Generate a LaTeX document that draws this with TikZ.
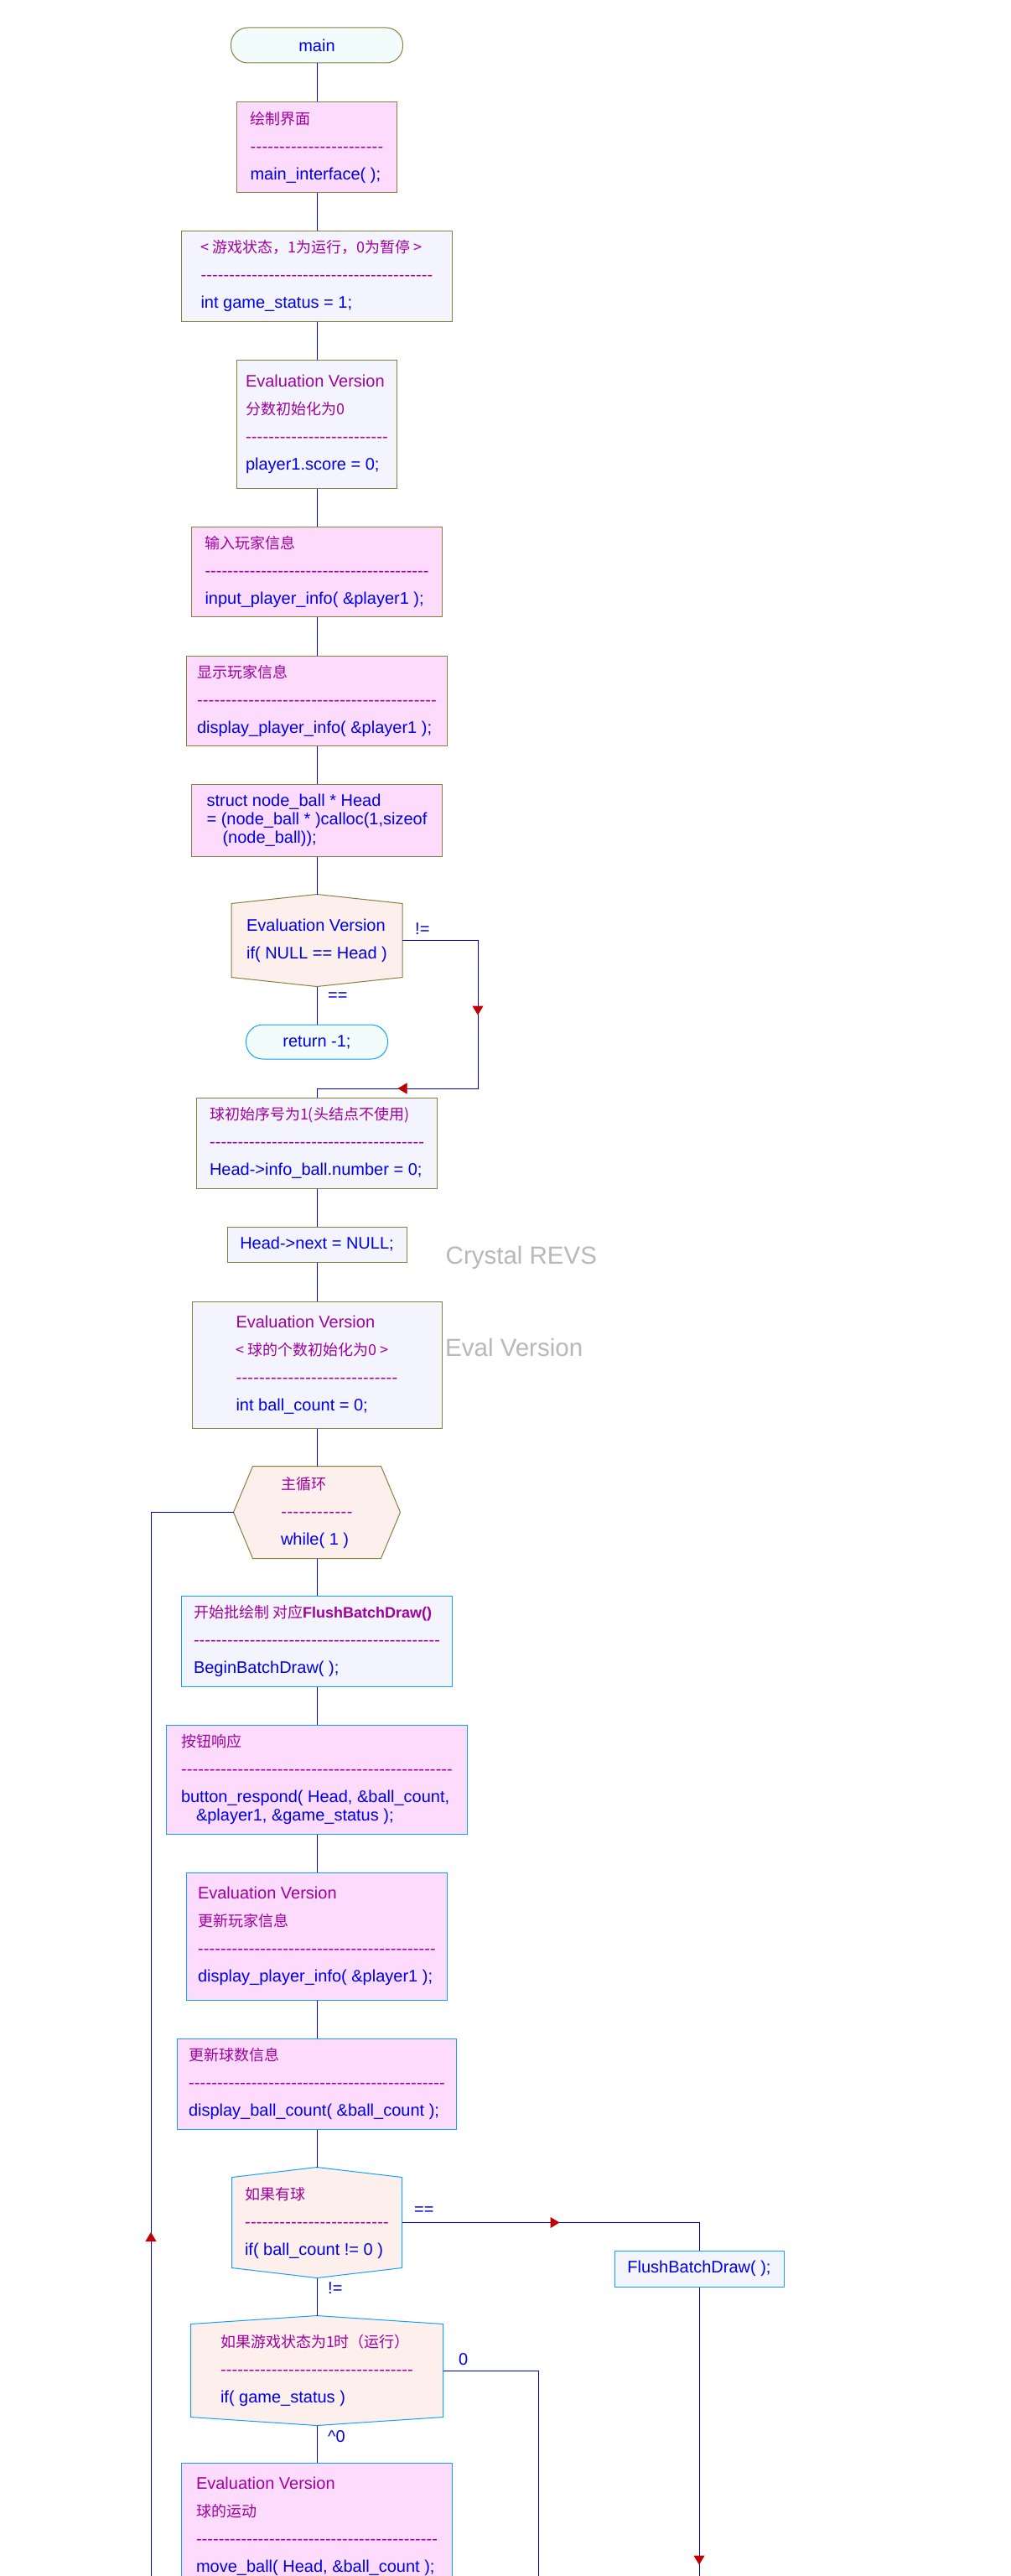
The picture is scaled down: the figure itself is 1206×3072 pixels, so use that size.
\documentclass[tikz,border=0pt]{standalone}
\usepackage{fontspec}
\setmainfont{Liberation Sans}
\newfontfamily\cjk{Noto Sans CJK SC}
\usetikzlibrary{arrows.meta,decorations.markings,calc,backgrounds}
\definecolor{lineblue}{HTML}{0000D0}
\definecolor{arrowred}{HTML}{C00000}
\definecolor{olive}{HTML}{858040}
\definecolor{cyanb}{HTML}{10A0FF}
\definecolor{pinkfill}{HTML}{FDDBFD}
\definecolor{lavfill}{HTML}{F4F4FE}
\definecolor{salfill}{HTML}{FDEFEB}
\definecolor{mintfill}{HTML}{F2FCFA}
\definecolor{cmcol}{HTML}{A000A0}
\definecolor{codecol}{HTML}{0000E8}
\definecolor{wmgray}{HTML}{B8B8B8}
\newcommand\zh[1]{{\cjk\fontsize{18}{22}\selectfont\color{cmcol}#1}}
\newcommand\zb[1]{{\bfseries\fontsize{18}{22}\selectfont\color{cmcol}#1}}
\newcommand\cm[1]{{\color{cmcol}#1}}
\newcommand\dl[1]{{\color{cmcol}\hbox to #1pt{\xleaders\hbox{-}\hfil}}}
\newcommand\redtip{\arrow{Triangle[width=13pt,length=11pt,color=arrowred]}}
\tikzset{
  base/.style={font=\fontsize{20}{22}\selectfont, text=codecol, align=left, inner sep=0pt, line width=1pt},
  procO/.style={base, draw=olive, rectangle},
  procC/.style={base, draw=cyanb, rectangle},
  pinkf/.style={fill=pinkfill},
  lavf/.style={fill=lavfill},
  sz/.style 2 args={minimum width=#1pt, minimum height=#2pt},
  dectext/.style={base, draw=none},
  decshape/.style={line width=1pt, fill=salfill},
  termO/.style={base, align=center, draw=olive, fill=mintfill, rounded corners=20pt},
  termC/.style={base, align=center, draw=cyanb, fill=mintfill, rounded corners=20pt},
  conn/.style={draw=lineblue, line width=1pt},
  lbl/.style={font=\fontsize{20}{22}\selectfont, text=codecol, anchor=west, inner sep=0pt},
  wm/.style={font=\fontsize{29.5}{32}\selectfont, text=wmgray, anchor=west, inner sep=0pt},
  arrowat/.style={postaction={decorate, decoration={markings, mark=at position #1 with {\redtip}}}}
}
\begin{document}
\begin{tikzpicture}[x=1pt, y=-1pt]
\useasboundingbox (0,0) rectangle (1206,3072);
\begin{scope}[on background layer]
\fill[white] (0,0) rectangle (1206,3072);
\end{scope}

% nodes
\node[termO, sz={205}{42}] (main) at (378,54) {main};
\node[procO, pinkf, sz={191}{107}] (b1) at (378,175.5) {\zh{绘制界面}\\[11pt]\dl{159}\\[11pt]main\_interface( );};
\node[procO, lavf, sz={323}{108}] (b2) at (378,329) {\zh{< 游戏状态，1为运行，0为暂停 >}\\[11pt]\dl{277}\\[11pt]int game\_status = 1;};
\node[procO, lavf, sz={191}{153}] (b3) at (378,505.5) {\cm{Evaluation Version}\\[11pt]\zh{分数初始化为0}\\[11pt]\dl{170}\\[11pt]player1.score = 0;};
\node[procO, pinkf, sz={299}{107}] (b4) at (378,681.5) {\zh{输入玩家信息}\\[11pt]\dl{267}\\[11pt]input\_player\_info( \&player1 );};
\node[procO, pinkf, sz={311}{107}] (b5) at (378,835.5) {\zh{显示玩家信息}\\[11pt]\dl{286}\\[11pt]display\_player\_info( \&player1 );};
\node[procO, pinkf, sz={299}{86}] (b6) at (378,978) {struct node\_ball * Head\\= (node\_ball * )calloc(1,sizeof\\\hspace*{19pt}(node\_ball));};
\node[dectext, sz={203}{109}] (d1) at (378,1121.5) {Evaluation Version\\[11pt]if( NULL == Head )};
\node[termC, sz={169}{41}] (ret) at (378,1242.5) {return -1;};
\node[procO, lavf, sz={287}{108}] (b7) at (378,1363) {\zh{球初始序号为1(头结点不使用)}\\[11pt]\dl{256}\\[11pt]Head->info\_ball.number = 0;};
\node[procO, lavf, sz={214}{42}] (b8) at (378,1484) {Head->next = NULL;};
\node[procO, lavf, sz={298}{151}] (b9) at (378,1627.5) {\cm{Evaluation Version}\\[11pt]\zh{< 球的个数初始化为0 >}\\[11pt]\dl{193}\\[11pt]int ball\_count = 0;};
\node[dectext, sz={198}{109}] (w) at (378,1803.5) {\zh{主循环}\\[11pt]\dl{86}\\[11pt]while( 1 )};
\node[procC, lavf, sz={323}{108}] (b10) at (378,1957) {\zh{开始批绘制 对应}\zb{FlushBatchDraw()}\\[11pt]\dl{294}\\[11pt]BeginBatchDraw( );};
\node[procC, pinkf, sz={359}{130}] (b11) at (378,2122) {\zh{按钮响应}\\[11pt]\dl{324}\\[11pt]button\_respond( Head, \&ball\_count,\\\hspace*{18pt}\&player1, \&game\_status );};
\node[procC, pinkf, sz={311}{152}] (b12) at (378,2309) {\cm{Evaluation Version}\\[11pt]\zh{更新玩家信息}\\[11pt]\dl{284}\\[11pt]display\_player\_info( \&player1 );};
\node[procC, pinkf, sz={333}{108}] (b13) at (378,2485) {\zh{更新球数信息}\\[11pt]\dl{306}\\[11pt]display\_ball\_count( \&ball\_count );};
\node[dectext, sz={202}{131}] (d2) at (378,2650.5) {\zh{如果有球}\\[11pt]\dl{172}\\[11pt]if( ball\_count != 0 )};
\node[procC, lavf, sz={202}{43}] (fl) at (834,2705.5) {FlushBatchDraw( );};
\node[dectext, sz={300}{130}] (d3) at (378,2827) {\zh{如果游戏状态为1时（运行）}\\[11pt]\dl{230}\\[11pt]if( game\_status )};
\node[procC, pinkf, sz={323}{152}] (b14) at (378,3013) {\cm{Evaluation Version}\\[11pt]\zh{球的运动}\\[11pt]\dl{288}\\[11pt]move\_ball( Head, \&ball\_count );};

% decision / loop outlines
\begin{scope}[on background layer]
\path[decshape, draw=olive] (d1.north) -- ($(d1.north east)+(0,11)$) -- ($(d1.south east)+(0,-11)$) -- (d1.south) -- ($(d1.south west)+(0,-11)$) -- ($(d1.north west)+(0,11)$) -- cycle;
\path[decshape, draw=olive] (w.west) -- ($(w.north west)+(23,0)$) -- ($(w.north east)+(-23,0)$) -- (w.east) -- ($(w.south east)+(-23,0)$) -- ($(w.south west)+(23,0)$) -- cycle;
\path[decshape, draw=cyanb] (d2.north) -- ($(d2.north east)+(0,12)$) -- ($(d2.south east)+(0,-12)$) -- (d2.south) -- ($(d2.south west)+(0,-12)$) -- ($(d2.north west)+(0,12)$) -- cycle;
\path[decshape, draw=cyanb] (d3.north) -- ($(d3.north east)+(0,10)$) -- ($(d3.south east)+(0,-10)$) -- (d3.south) -- ($(d3.south west)+(0,-10)$) -- ($(d3.north west)+(0,10)$) -- cycle;
\end{scope}

% watermarks
\node[wm] (wm1) at (531.5,1500) {Crystal REVS};
\node[wm] (wm2) at (531,1607) {Eval Version};

% labels
\node[lbl] (l1) at (495,1108) {!=};
\node[lbl] (l2) at (391,1189) {==};
\node[lbl] (l3) at (494,2637) {==};
\node[lbl] (l4) at (391,2729) {!=};
\node[lbl] (l5) at (547,2814) {0};
\node[lbl] (l6) at (391,2906) {\textasciicircum 0};

% coordinates
\coordinate (c1) at (570,1298);
\coordinate (lb) at (180,3072);
\coordinate (fb) at (834,3072);
\coordinate (d3b) at (642,3072);

% connectors
\draw[conn] (main) -- (b1);
\draw[conn] (b1) -- (b2);
\draw[conn] (b2) -- (b3);
\draw[conn] (b3) -- (b4);
\draw[conn] (b4) -- (b5);
\draw[conn] (b5) -- (b6);
\draw[conn] (b6.south) -- (d1.north);
\draw[conn] (d1.south) -- (ret.north);
\draw[conn, arrowat=179pt, arrowat=362pt] (d1.east) -| (c1) -| (b7.north);
\draw[conn] (b7) -- (b8);
\draw[conn] (b8) -- (b9);
\draw[conn] (b9.south) -- (w.north);
\draw[conn, arrowat=410pt] (lb) |- (w.west);
\draw[conn] (w.south) -- (b10.north);
\draw[conn] (b10) -- (b11);
\draw[conn] (b11) -- (b12);
\draw[conn] (b12) -- (b13);
\draw[conn] (b13.south) -- (d2.north);
\draw[conn, arrowat=188pt] (d2.east) -| (fl.north);
\draw[conn, arrowat=331pt] (fl.south) -- (fb);
\draw[conn] (d2.south) -- (d3.north);
\draw[conn] (d3.east) -| (d3b);
\draw[conn] (d3.south) -- (b14.north);
\end{tikzpicture}
\end{document}
